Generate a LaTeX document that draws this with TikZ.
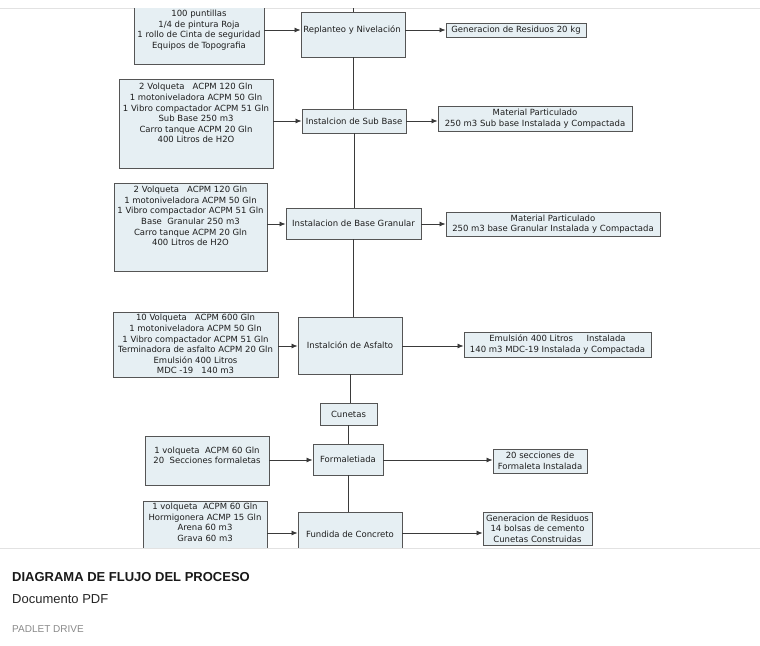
\documentclass[tikz,border=0pt]{standalone}
\usepackage{fontspec}
\setmainfont{DejaVu Sans}
\newfontfamily\footfont{Liberation Sans}
\usetikzlibrary{arrows.meta}
\definecolor{boxfill}{HTML}{E6EFF3}
\definecolor{boxline}{HTML}{555555}
\definecolor{linkline}{HTML}{3A3A3A}
\definecolor{txt}{HTML}{1E1E1E}
\definecolor{sepline}{HTML}{E2E2E2}
\definecolor{footgrey}{HTML}{8A8A8A}
\tikzset{
  box/.style={draw=boxline, fill=boxfill, line width=0.95pt, inner sep=0pt},
  txtn/.style={font=\fontsize{8.5}{10.6}\selectfont, text=txt, align=center, inner sep=0pt},
  link/.style={draw=linkline, line width=0.8pt},
  arr/.style={link, -{Latex[length=6pt,width=5pt]}},
}
\begin{document}
\begin{tikzpicture}[x=1pt,y=-1pt]
\useasboundingbox[fill=white] (0,0) rectangle (760,645);
\draw[sepline, line width=0.8pt] (0,8) -- (760,8);
\begin{scope}
\clip (0,8.6) rectangle (760,548);
% row coordinates
\coordinate (r1) at (0,30);
\coordinate (r2) at (0,121);
\coordinate (r3) at (0,224);
\coordinate (r4) at (0,346);
\coordinate (r5) at (0,460);
\coordinate (r6) at (0,533);
\coordinate (top) at (353,0);
% process boxes
\node[box, minimum width=104pt, minimum height=45pt] (rep) at (353,34.5) {};
\node[txtn] (rept) at (352,30) {Replanteo y Nivelación};
\node[box, txtn, minimum width=104pt, minimum height=24pt] (sub) at (354,121) {Instalcion de Sub Base};
\node[box, txtn, minimum width=135pt, minimum height=31pt] (base) at (353.5,223.5) {Instalacion de Base Granular};
\node[box, txtn, minimum width=104pt, minimum height=57pt] (asf) at (350,345.5) {Instalción de Asfalto};
\node[box, txtn, minimum width=57pt, minimum height=22pt] (cun) at (348.5,414) {Cunetas};
\node[box, txtn, minimum width=70pt, minimum height=31pt] (form) at (348,459.5) {Formaletiada};
\node[box, minimum width=104pt, minimum height=44pt] (fund) at (350,534) {};
\node[txtn] (fundt) at (350,534) {Fundida de Concreto};
% spine
\draw[link] (top -| rep.north) -- (rep.north);
\draw[link] (rep.south) -- (rep.south |- sub.north);
\draw[link] (sub.south) -- (sub.south |- base.north);
\draw[link] (base.south) -- (base.south |- asf.north);
\draw[link] (asf.south) -- (asf.south |- cun.north);
\draw[link] (cun.south) -- (cun.south |- form.north);
\draw[link] (form.south) -- (form.south |- fund.north);
% input boxes
\node[box, minimum width=130pt, minimum height=70pt] (in1) at (199,29) {};
\node[txtn] (t1) at (199,30) {100 puntillas\\1/4 de pintura Roja\\1 rollo de Cinta de seguridad\\Equipos de Topografia};
\node[box, minimum width=154pt, minimum height=89pt] (in2) at (196,123.5) {};
\node[txtn] (t2) at (196,113.3) {2 Volqueta\ \ \ ACPM 120 Gln\\1 motoniveladora ACPM 50 Gln\\1 Vibro compactador ACPM 51 Gln\\Sub Base 250 m3\\Carro tanque ACPM 20 Gln\\400 Litros de H2O};
\node[box, minimum width=153pt, minimum height=88pt] (in3) at (190.5,227) {};
\node[txtn] (t3) at (190.5,216) {2 Volqueta\ \ \ ACPM 120 Gln\\1 motoniveladora ACPM 50 Gln\\1 Vibro compactador ACPM 51 Gln\\Base\ \ Granular 250 m3\\Carro tanque ACPM 20 Gln\\400 Litros de H2O};
\node[box, minimum width=165pt, minimum height=65pt] (in4) at (195.5,344.5) {};
\node[txtn] (t4) at (195.5,344.3) {10 Volqueta\ \ \ ACPM 600 Gln\\1 motoniveladora ACPM 50 Gln\\1 Vibro compactador ACPM 51 Gln\\Terminadora de asfalto ACPM 20 Gln\\Emulsión 400 Litros\\MDC -19\ \ \ 140 m3};
\node[box, minimum width=124pt, minimum height=49pt] (in5) at (207,460.5) {};
\node[txtn] (t5) at (207,455.3) {1 volqueta\ \ ACPM 60 Gln\\20\ \ Secciones formaletas};
\node[box, minimum width=124pt, minimum height=69pt] (in6) at (205,535.5) {};
\node[txtn] (t6) at (205,522.5) {1 volqueta\ \ ACPM 60 Gln\\Hormigonera ACMP 15 Gln\\Arena 60 m3\\Grava 60 m3};
% output boxes
\node[box, txtn, minimum width=140pt, minimum height=14pt] (out1) at (516,30) {Generacion de Residuos 20 kg};
\node[box, txtn, minimum width=194pt, minimum height=25pt] (out2) at (535,118.5) {Material Particulado\\250 m3 Sub base Instalada y Compactada};
\node[box, txtn, minimum width=214pt, minimum height=24pt] (out3) at (553,224) {Material Particulado\\250 m3 base Granular Instalada y Compactada};
\node[box, txtn, minimum width=187pt, minimum height=25pt] (out4) at (557.5,344.5) {Emulsión 400 Litros\ \ \ \ \ Instalada\\140 m3 MDC-19 Instalada y Compactada};
\node[box, txtn, minimum width=94pt, minimum height=24pt] (out5) at (540,461) {20 secciones de\\Formaleta Instalada};
\node[box, txtn, minimum width=109pt, minimum height=33pt] (out6) at (537.5,528.5) {Generacion de Residuos\\14 bolsas de cemento\\Cunetas Construidas};
% arrows in
\draw[arr] (in1.east |- r1) -- (rep.west |- r1);
\draw[arr] (in2.east |- r2) -- (sub.west |- r2);
\draw[arr] (in3.east |- r3) -- (base.west |- r3);
\draw[arr] (in4.east |- r4) -- (asf.west |- r4);
\draw[arr] (in5.east |- r5) -- (form.west |- r5);
\draw[arr] (in6.east |- r6) -- (fund.west |- r6);
% arrows out
\draw[arr] (rep.east |- r1) -- (out1.west |- r1);
\draw[arr] (sub.east |- r2) -- (out2.west |- r2);
\draw[arr] (base.east |- r3) -- (out3.west |- r3);
\draw[arr] (asf.east |- r4) -- (out4.west |- r4);
\draw[arr] (form.east |- r5) -- (out5.west |- r5);
\draw[arr] (fund.east |- r6) -- (out6.west |- r6);
\end{scope}
% footer
\draw[sepline, line width=0.8pt] (0,548) -- (760,548);
\node[anchor=base west, inner sep=0pt, text=black!90, font=\footfont\bfseries\fontsize{13}{15}\selectfont] (ft1) at (12,581) {DIAGRAMA DE FLUJO DEL PROCESO};
\node[anchor=base west, inner sep=0pt, text=black!85, font=\footfont\fontsize{13}{15}\selectfont] (ft2) at (12,603) {Documento PDF};
\node[anchor=base west, inner sep=0pt, text=footgrey, font=\footfont\fontsize{10}{12}\selectfont] (ft3) at (12,632) {PADLET DRIVE};
\end{tikzpicture}
\end{document}
